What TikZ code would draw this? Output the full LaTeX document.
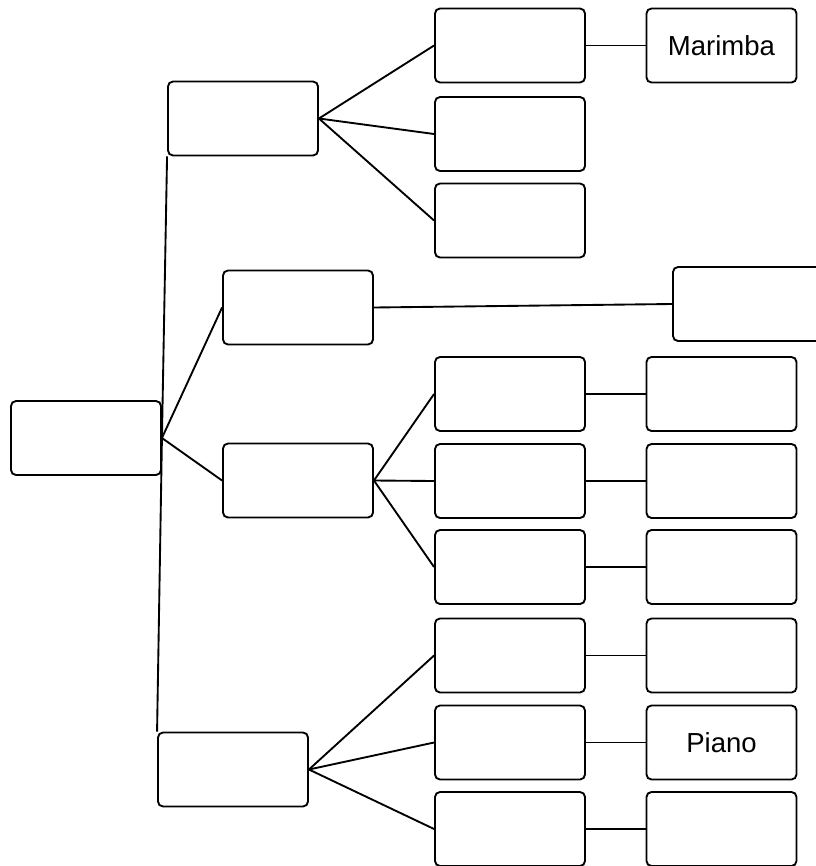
\documentclass[tikz,border=0pt]{standalone}
\usepackage{fontspec}
\setmainfont{Liberation Sans}
\begin{document}
\begin{tikzpicture}[x=0.03cm,y=-0.03cm,line width=1.6pt,
    leaf/.style={draw,rounded corners=0.15cm,minimum width=4.5cm,minimum height=2.22cm,inner sep=0,
        font=\fontsize{23.5}{28}\selectfont}]
    \useasboundingbox (0,0) rectangle (816,866);

    \node at (86,438) [leaf] (root) {};

    \node at (243,118.5) [leaf] (a) {};
    \node at (298,307.5) [leaf] (b) {};
    \node at (298,480.5) [leaf] (c) {};
    \node at (233,769.5) [leaf] (d) {};

    \node at (510,45.5) [leaf] (a1) {};
    \node at (510,134) [leaf] (a2) {};
    \node at (510,220.5) [leaf] (a3) {};
    \node at (721.5,45.5) [leaf] (a1x) {Marimba};

    \node at (748,304) [leaf] (b1) {};

    \node at (510,394) [leaf] (c1) {};
    \node at (510,481) [leaf] (c2) {};
    \node at (510,567) [leaf] (c3) {};
    \node at (721.5,394) [leaf] (c1x) {};
    \node at (721.5,481) [leaf] (c2x) {};
    \node at (721.5,567) [leaf] (c3x) {};

    \node at (510,655.5) [leaf] (d1) {};
    \node at (510,742.5) [leaf] (d2) {};
    \node at (510,829) [leaf] (d3) {};
    \node at (721.5,655.5) [leaf] (d1x) {};
    \node at (721.5,742.5) [leaf] (d2x) {Piano};
    \node at (721.5,829) [leaf] (d3x) {};

    \draw (root.east) -- (a.south west);
    \draw (root.east) -- (b.west);
    \draw (root.east) -- (c.west);
    \draw (root.east) -- (d.north west);

    \draw (b.east) -- (b1.west);
    \draw (a1.east) -- (a1x.west);
    \foreach \p in {a,c,d}
        \foreach \i in {1,2,3}
            \draw (\p.east) -- (\p\i.west);
    \foreach \p in {c,d}
        \foreach \i in {1,2,3}
            \draw (\p\i.east) -- (\p\i x.west);
\end{tikzpicture}
\end{document}
